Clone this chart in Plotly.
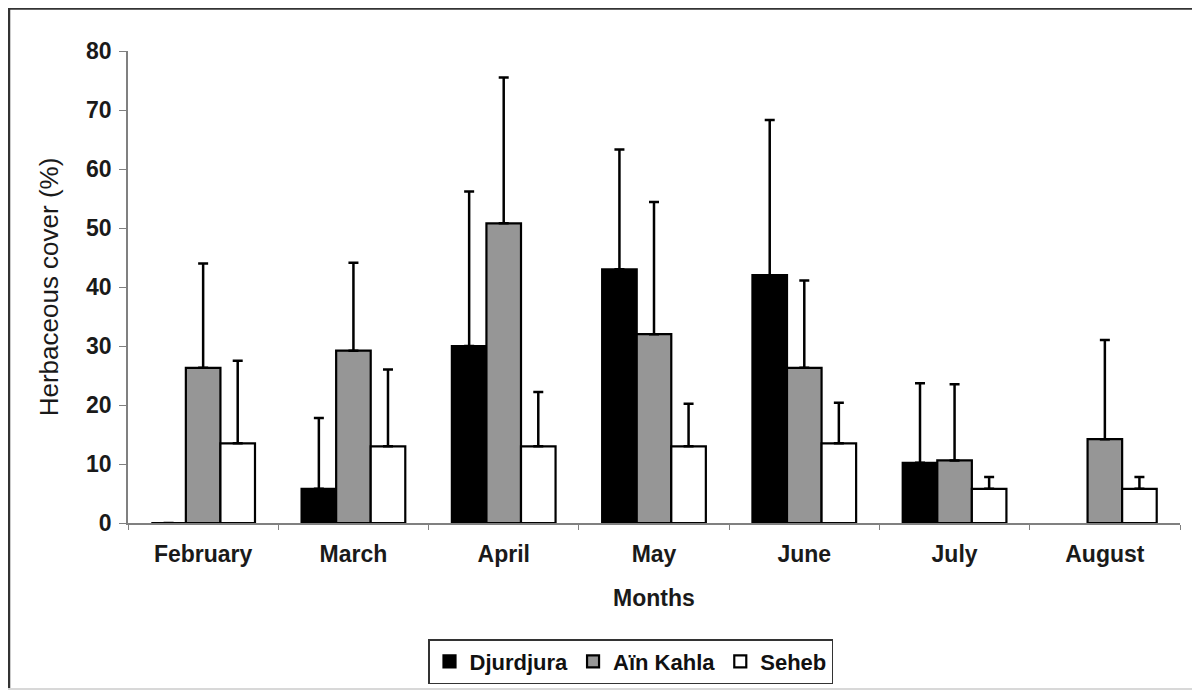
import plotly.graph_objects as go

months = ["February", "March", "April", "May", "June", "July", "August"]
djurdjura = [0, 5.8, 30.0, 43.0, 42.0, 10.2, None]
djurdjura_err = [0, 12.0, 26.2, 20.3, 26.3, 13.5, None]
ain_kahla = [26.3, 29.2, 50.8, 32.0, 26.3, 10.6, 14.2]
ain_kahla_err = [17.7, 14.9, 24.7, 22.4, 14.8, 12.9, 16.8]
seheb = [13.5, 13.0, 13.0, 13.0, 13.5, 5.8, 5.8]
seheb_err = [14.0, 13.0, 9.2, 7.2, 6.9, 2.0, 2.0]

series = [
    ("Djurdjura", djurdjura, djurdjura_err, "#000000"),
    ("Aïn Kahla", ain_kahla, ain_kahla_err, "#969696"),
    ("Seheb", seheb, seheb_err, "#ffffff"),
]

fig = go.Figure()
for name, vals, errs, color in series:
    fig.add_trace(go.Bar(
        x=months, y=vals, name=name,
        marker=dict(color=color, line=dict(color="#000000", width=2.2)),
        error_y=dict(type="data", array=errs, arrayminus=[0]*len(errs),
                     symmetric=False, color="#000000", thickness=2.5, width=5),
    ))

F = "Liberation Sans, Arial, sans-serif"
L, R, T, B = 120, 28, 43, 176
PW, PH = 1200 - L - R, 691 - T - B

def px(xp):
    return (xp - L) / PW

def py(yp):
    return 1 - (yp - T) / PH

fig.update_layout(
    width=1200, height=691,
    paper_bgcolor="white", plot_bgcolor="white",
    margin=dict(l=L, r=R, t=T, b=B, pad=0),
    barmode="group", bargap=0.31, bargroupgap=0,
    font=dict(family=F, color="#1a1a1a"),
    showlegend=True,
    legend=dict(orientation="h", x=px(420), xanchor="left", y=py(631), yanchor="top",
                bordercolor="#333333", borderwidth=1.5,
                font=dict(size=22, family=F, weight="bold", color="#111111"),
                itemwidth=30, tracegroupgap=0),
    xaxis=dict(
        showline=True, linecolor="#808080", linewidth=1.5,
        ticks="outside", ticklen=5, tickcolor="#808080", tickson="boundaries",
        tickfont=dict(size=23, family=F, weight="bold", color="#1a1a1a"),
        ticklabelstandoff=10,
        title=dict(text="<b>Months</b>", font=dict(size=23, family=F, color="#1a1a1a"), standoff=24),
        showgrid=False,
    ),
    yaxis=dict(
        range=[0, 80], dtick=10,
        showline=True, linecolor="#808080", linewidth=1.5,
        ticks="outside", ticklen=7, tickcolor="#808080",
        tickfont=dict(size=23, family=F, weight="bold", color="#1a1a1a"),
        ticklabelstandoff=3,
        title=dict(text="Herbaceous cover (%)", font=dict(size=26, family=F, color="#1a1a1a"), standoff=20),
        showgrid=False, zeroline=False,
    ),
    shapes=[
        dict(type="line", xref="paper", yref="paper", x0=px(0), x1=px(1192),
             y0=py(0.5), y1=py(0.5), line=dict(color="#333333", width=2.5)),
        dict(type="line", xref="paper", yref="paper", x0=px(1), x1=px(1),
             y0=py(0), y1=py(682), line=dict(color="#333333", width=2.5)),
        dict(type="line", xref="paper", yref="paper", x0=px(1191), x1=px(1191),
             y0=py(0), y1=py(682), line=dict(color="#d8d8d8", width=2)),
        dict(type="line", xref="paper", yref="paper", x0=px(0), x1=px(1192),
             y0=py(681), y1=py(681), line=dict(color="#d8d8d8", width=2)),
    ],
)

fig.write_html("out.html")
